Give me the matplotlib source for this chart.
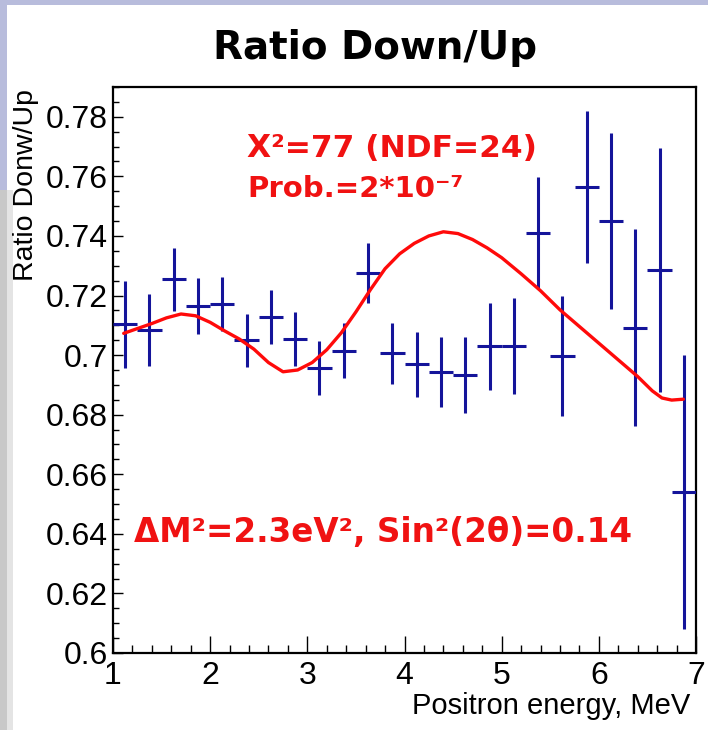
import matplotlib
matplotlib.use("Agg")
import matplotlib.pyplot as plt
from matplotlib.patches import Rectangle
from matplotlib.ticker import FixedLocator, MultipleLocator

# ---------------- data ----------------
energy = [1.125, 1.375, 1.625, 1.875, 2.125, 2.375, 2.625, 2.875,
          3.125, 3.375, 3.625, 3.875, 4.125, 4.375, 4.625, 4.875,
          5.125, 5.375, 5.625, 5.875, 6.125, 6.375, 6.625, 6.875]
ratio = [0.7104, 0.7084, 0.7254, 0.7164, 0.7171, 0.7050, 0.7127, 0.7053,
         0.6957, 0.7015, 0.7276, 0.7006, 0.6969, 0.6944, 0.6933, 0.7030,
         0.7031, 0.7410, 0.6997, 0.7563, 0.7451, 0.7092, 0.7285, 0.6541]
ratio_err = [0.0146, 0.0120, 0.0105, 0.0094, 0.0090, 0.0089, 0.0090, 0.0091,
             0.0090, 0.0092, 0.0100, 0.0103, 0.0110, 0.0118, 0.0129, 0.0146,
             0.0160, 0.0187, 0.0202, 0.0255, 0.0296, 0.0330, 0.0410, 0.0460]
bin_half_width = 0.125

fit_energy = [1.11, 1.25, 1.40, 1.55, 1.70, 1.85, 2.00, 2.15, 2.30, 2.45,
              2.60, 2.75, 2.90, 3.05, 3.20, 3.35, 3.50, 3.65, 3.80, 3.95,
              4.10, 4.25, 4.40, 4.55, 4.70, 4.85, 5.00, 5.20, 5.40, 5.60,
              5.80, 6.00, 6.20, 6.40, 6.55, 6.65, 6.75, 6.87]
fit_ratio = [0.7073, 0.7089, 0.7106, 0.7125, 0.7138, 0.7132, 0.7110, 0.7081,
             0.7054, 0.7020, 0.6975, 0.6944, 0.6950, 0.6975, 0.7018, 0.7075,
             0.7145, 0.7220, 0.7290, 0.7340, 0.7375, 0.7400, 0.7414, 0.7408,
             0.7388, 0.7360, 0.7327, 0.7273, 0.7216, 0.7152, 0.7096, 0.7040,
             0.6984, 0.6928, 0.6880, 0.6856, 0.6849, 0.6852]

x_ticks = [1, 2, 3, 4, 5, 6, 7]
x_tick_labels = ["1", "2", "3", "4", "5", "6", "7"]
y_ticks = [0.60, 0.62, 0.64, 0.66, 0.68, 0.70, 0.72, 0.74, 0.76, 0.78]
y_tick_labels = ["0.6", "0.62", "0.64", "0.66", "0.68", "0.7", "0.72",
                 "0.74", "0.76", "0.78"]

title_text = "Ratio Down/Up"
xlabel_text = "Positron energy, MeV"
ylabel_text = "Ratio Donw/Up"
chi2_text = "\u03a7\u00b2=77 (NDF=24)"
prob_text = "Prob.=2*10\u207b\u2077"
param_text = "\u0394M\u00b2=2.3eV\u00b2, Sin\u00b2(2\u03b8)=0.14"

# ---------------- figure ----------------
W, H = 708, 730
fig = plt.figure(figsize=(W / 100, H / 100), dpi=100)
fig.patch.set_facecolor("white")

def px_rect(x0, y0, w, h, color):
    fig.add_artist(Rectangle((x0 / W, 1 - (y0 + h) / H), w / W, h / H,
                             transform=fig.transFigure, facecolor=color,
                             edgecolor="none", zorder=0))

lav = "#b8bcdc"
px_rect(0, 0, W, 5, lav)
px_rect(0, 0, 7, 190, lav)
px_rect(0, 190, 7, H - 190, "#c8c8c8")
px_rect(7, 190, 6, H - 190, "#e4e4e4")

left, right, top, bottom = 113, 696, 87, 653
ax = fig.add_axes([left / W, 1 - bottom / H, (right - left) / W, (bottom - top) / H])
ax.set_zorder(2)
ax.set_facecolor("white")

ax.errorbar(energy, ratio, yerr=ratio_err, xerr=bin_half_width, fmt="none",
            ecolor="#14149a", elinewidth=2.2, capsize=0, zorder=3)
ax.plot(fit_energy, fit_ratio, color="#ff0a0a", lw=2.4, zorder=4,
        solid_capstyle="round", solid_joinstyle="round")

ax.set_xlim(1, 7)
ax.set_ylim(0.6, 0.79)

ax.xaxis.set_major_locator(FixedLocator(x_ticks))
ax.set_xticklabels(x_tick_labels)
ax.xaxis.set_minor_locator(MultipleLocator(0.2))
ax.yaxis.set_major_locator(FixedLocator(y_ticks))
ax.set_yticklabels(y_tick_labels)
ax.yaxis.set_minor_locator(MultipleLocator(0.005))

tick_font = "Liberation Sans"
for lab in ax.get_xticklabels() + ax.get_yticklabels():
    lab.set_fontfamily(tick_font)
    lab.set_fontsize(23)

ax.tick_params(axis="x", which="major", direction="in", length=12, width=1.0,
               pad=6, top=False)
ax.tick_params(axis="x", which="minor", direction="in", length=6, width=1.0,
               top=False)
ax.tick_params(axis="y", which="major", direction="in", length=7, width=1.0,
               pad=3.5, right=False)
ax.tick_params(axis="y", which="minor", direction="in", length=4, width=1.0,
               right=False)
for sp in ax.spines.values():
    sp.set_linewidth(1.6)
    sp.set_color("black")

# ---------------- texts ----------------
fig.text(375 / W, 1 - 59 / H, title_text, ha="center", va="baseline",
         fontsize=28, fontweight="bold", family="DejaVu Sans", color="black")
fig.text(26 / W, 1 - 89 / H, ylabel_text, rotation=90, ha="center", va="top",
         fontsize=20.5, family=tick_font, color="black")
fig.text(690 / W, 1 - 714 / H, xlabel_text, ha="right", va="baseline",
         fontsize=21, family=tick_font, color="black")

red = "#f01212"
fig.text(247 / W, 1 - 157 / H, chi2_text, ha="left", va="baseline",
         fontsize=22.5, fontweight="bold", family="DejaVu Sans", color=red, zorder=5)
fig.text(247 / W, 1 - 197 / H, prob_text, ha="left", va="baseline",
         fontsize=21, fontweight="bold", family="DejaVu Sans", color=red, zorder=5)
fig.text(134 / W, 1 - 542 / H, param_text, ha="left", va="baseline",
         fontsize=23.5, fontweight="bold", family="DejaVu Sans", color=red, zorder=5)

fig.savefig("out.png", dpi=100, facecolor=fig.get_facecolor())
